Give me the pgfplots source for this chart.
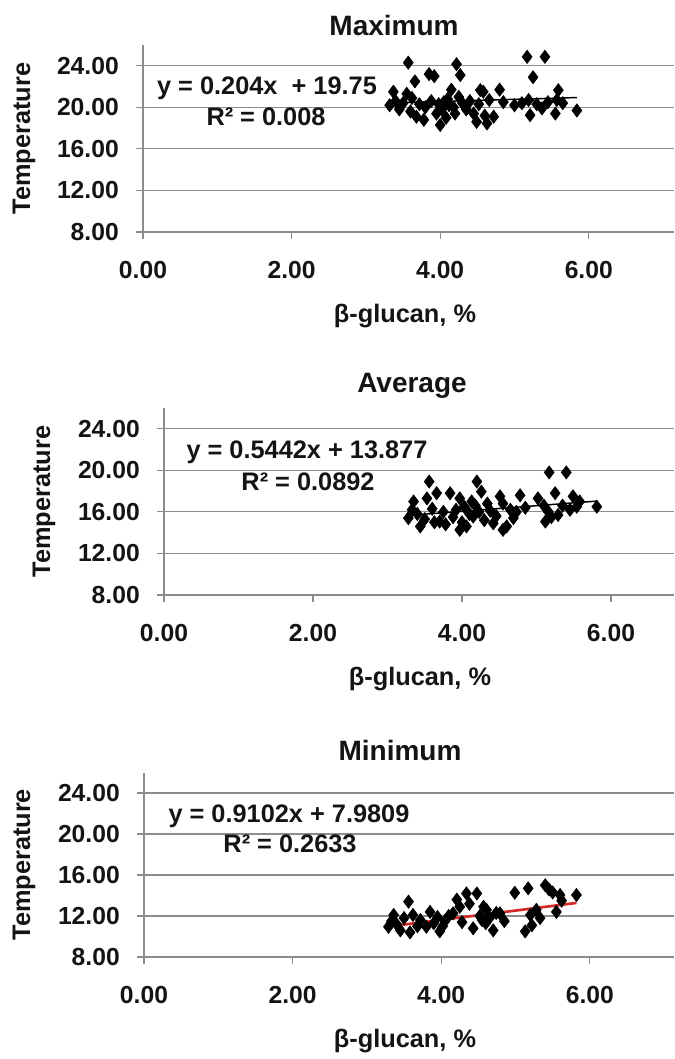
\documentclass[border=0pt]{standalone}
\usepackage{pgfplots}
\pgfplotsset{compat=1.18}
\usepackage{fontspec}
\setmainfont{Liberation Sans}
\definecolor{gridc}{HTML}{8C8C8C}
\definecolor{txt}{HTML}{141414}
\definecolor{trendred}{HTML}{D42A2A}

\pgfplotsset{
  panel/.style={
    scale only axis,
    anchor=south west,
    axis x line*=bottom,
    axis y line*=left,
    axis line style={gridc, line width=0.9pt},
    ymin=8, ymax=26,
    xmin=0,
    xtick={0,2,4,6},
    ytick={8,12,16,20,24},
    ymajorgrids,
    grid style={gridc, line width=0.9pt},
    tick align=outside,
    major tick length=5pt,
    tick style={gridc, line width=0.8pt},
    tick label style={font=\bfseries\fontsize{18.5}{18.5}\selectfont, text=txt},
    /pgf/number format/.cd, fixed, fixed zerofill, precision=2, assume math mode=true,
  },
  /pgfplots/panel/.append style={
    xticklabel style={anchor=north, inner sep=0pt, yshift=-17pt},
    yticklabel style={anchor=east, inner sep=0pt, xshift=-13pt},
    clip=false,
  },
  dots/.style={only marks, mark=diamond*, mark size=5pt, mark options={fill=black, draw=black}},
}

\begin{document}
\begin{tikzpicture}
\useasboundingbox (0pt,0pt) rectangle (505.5pt,-794.25pt);

% ---------------- Maximum ----------------
\begin{axis}[panel, at={(107.25pt,-174pt)}, width=398.25pt, height=140.25pt, xmax=7.147]
\addplot[dots] coordinates {
(3.32,20.2) (3.37,21.5) (3.40,20.6) (3.45,19.8) (3.50,20.4) (3.55,21.3) (3.57,24.3)
(3.60,19.6) (3.62,20.9) (3.66,22.5) (3.68,19.1) (3.72,20.3) (3.78,18.8) (3.80,20.0)
(3.85,23.2) (3.88,20.6) (3.92,23.0) (3.95,19.4) (3.98,20.3) (4.00,18.3) (4.02,19.8)
(4.05,20.5) (4.08,19.0) (4.10,20.8) (4.12,20.2) (4.15,21.7) (4.18,20.0) (4.20,19.4)
(4.22,24.15) (4.25,21.0) (4.27,23.1) (4.30,20.4) (4.35,19.8) (4.40,20.6) (4.45,19.4)
(4.49,18.6) (4.52,20.3) (4.54,21.65) (4.58,21.5) (4.60,19.2) (4.63,18.45) (4.66,20.7)
(4.72,19.1) (4.80,21.7) (4.85,20.5) (5.00,20.2) (5.10,20.4) (5.17,24.86) (5.19,20.7)
(5.21,19.25) (5.25,22.9) (5.30,20.3) (5.37,19.9) (5.41,24.86) (5.45,20.5) (5.55,19.4)
(5.57,20.7) (5.59,21.65) (5.65,20.4) (5.84,19.7)
};
\addplot[black, line width=1.1pt] coordinates {(3.32,20.427) (5.84,20.941)};
\end{axis}

% ---------------- Average ----------------
\begin{axis}[panel, at={(123pt,-446.25pt)}, width=382.5pt, height=140.25pt, xmax=6.846]
\addplot[dots] coordinates {
(3.28,15.4) (3.33,16.2) (3.35,17.0) (3.40,15.8) (3.44,14.6) (3.50,15.3) (3.53,17.3)
(3.56,18.92) (3.60,16.3) (3.63,15.0) (3.66,17.8) (3.70,15.07) (3.75,16.0) (3.78,14.8)
(3.84,17.8) (3.88,15.5) (3.92,16.2) (3.97,14.27) (3.97,17.3) (4.00,15.0) (4.03,16.5)
(4.06,14.6) (4.10,15.8) (4.13,17.0) (4.15,15.55) (4.18,16.6) (4.20,18.92) (4.23,16.0)
(4.26,17.95) (4.30,15.2) (4.34,16.8) (4.38,16.1) (4.42,14.9) (4.46,15.6) (4.51,17.5)
(4.55,14.27) (4.55,16.8) (4.60,14.6) (4.65,16.2) (4.69,15.4) (4.73,16.0) (4.78,17.6)
(4.85,16.4) (5.02,17.3) (5.10,16.6) (5.12,15.07) (5.16,16.0) (5.17,19.8) (5.20,15.5)
(5.25,17.8) (5.29,15.7) (5.35,16.6) (5.40,19.8) (5.45,16.2) (5.49,17.5) (5.54,16.5)
(5.58,17.0) (5.81,16.5)
};
\addplot[black, line width=1.1pt] coordinates {(3.28,15.662) (5.81,17.039)};
\end{axis}

% ---------------- Minimum ----------------
\begin{axis}[panel, at={(108pt,-717.75pt)}, width=397.5pt, height=138.375pt, xmax=7.133]
\addplot[dots] coordinates {
(3.29,10.95) (3.33,11.5) (3.36,12.1) (3.40,11.2) (3.45,10.6) (3.50,11.8) (3.56,13.4)
(3.58,10.4) (3.62,12.1) (3.68,11.0) (3.72,11.6) (3.80,10.95) (3.85,12.4) (3.90,11.3)
(3.95,11.9) (3.98,10.5) (4.02,11.0) (4.05,11.5) (4.10,12.0) (4.16,12.26) (4.21,13.6)
(4.25,12.9) (4.28,11.4) (4.34,14.2) (4.38,13.2) (4.43,10.8) (4.48,14.2) (4.52,12.0)
(4.55,11.6) (4.57,12.9) (4.60,11.3) (4.61,12.6) (4.65,11.8) (4.70,10.6) (4.74,12.3)
(4.79,12.26) (4.85,11.5) (4.99,14.27) (5.13,10.5) (5.17,14.7) (5.20,12.1) (5.22,11.1)
(5.28,12.6) (5.33,11.8) (5.40,15.0) (5.45,14.6) (5.50,14.3) (5.55,12.4) (5.60,14.05)
(5.62,13.5) (5.82,14.05)
};
\addplot[trendred, line width=2pt] coordinates {(3.29,10.975) (5.82,13.278)};
\end{axis}

% ---------------- texts ----------------
\begin{scope}[every node/.style={text=txt, font=\bfseries\fontsize{19}{19}\selectfont, inner sep=0pt}]
\node[font=\bfseries\fontsize{21}{21}\selectfont] at (295.5pt,-18.75pt) {Maximum};
\node[font=\bfseries\fontsize{21}{21}\selectfont] at (309pt,-289.5pt) {Average};
\node[font=\bfseries\fontsize{21}{21}\selectfont] at (300pt,-562.5pt) {Minimum};

\node at (303.75pt,-237pt) {β-glucan, \%};
\node at (315pt,-509.25pt) {β-glucan, \%};
\node at (303.75pt,-780.75pt) {β-glucan, \%};

\node[rotate=90] at (18pt,-103.9pt) {Temperature};
\node[rotate=90] at (33pt,-376.1pt) {Temperature};
\node[rotate=90] at (18pt,-648.6pt) {Temperature};

\node at (200.25pt,-66pt) {y = 0.204x ~+ 19.75};
\node at (199.5pt,-87.75pt) {R² = 0.008};
\node at (230.25pt,-339pt) {y = 0.5442x + 13.877};
\node at (231pt,-361.5pt) {R² = 0.0892};
\node at (216.75pt,-612pt) {y = 0.9102x + 7.9809};
\node at (217.5pt,-633pt) {R² = 0.2633};
\end{scope}
\end{tikzpicture}
\end{document}
